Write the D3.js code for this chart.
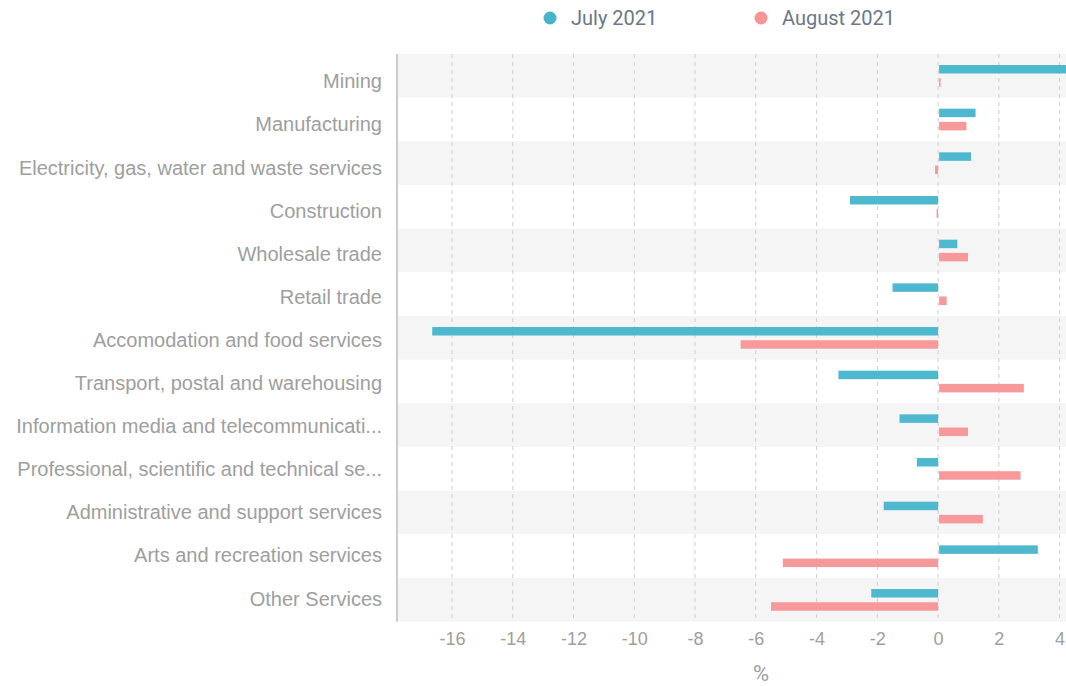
<!DOCTYPE html>
<html>
<head>
<meta charset="utf-8">
<script src="https://cdn.jsdelivr.net/npm/d3@7"></script>
<style>
  body { margin: 0; background: #fff; }
  svg { display: block; font-family: Roboto, "Noto Sans", sans-serif; }
</style>
</head>
<body>
<svg id="chart"></svg>
<script>
// industries, top to bottom
const categories = [
  'Mining',
  'Manufacturing',
  'Electricity, gas, water and waste services',
  'Construction',
  'Wholesale trade',
  'Retail trade',
  'Accomodation and food services',
  'Transport, postal and warehousing',
  'Information media and telecommunicati...',
  'Professional, scientific and technical se...',
  'Administrative and support services',
  'Arts and recreation services',
  'Other Services'
];
const seriesNames = ['July 2021', 'August 2021'];
const july2021 = [4.6, 1.2, 1.05, -2.9, 0.6, -1.5, -16.65, -3.28, -1.27, -0.7, -1.79, 3.25, -2.2];
const august2021 = [0.05, 0.9, -0.1, -0.05, 0.95, 0.25, -6.5, 2.79, 0.95, 2.68, 1.44, -5.11, -5.5];
const xTicks = [-16, -14, -12, -10, -8, -6, -4, -2, 0, 2, 4];
const colors = ['#45b5cb', '#f79495'];

const W = 1066, H = 686;
const margin = {top: 54, right: 0, bottom: 64.3, left: 397};

const svg = d3.select('#chart').attr('width', W).attr('height', H);

const x = d3.scaleLinear()
  .domain([-17.81, 4.21])
  .range([margin.left, W - margin.right]);

const y = d3.scaleBand()
  .domain(categories)
  .range([margin.top, H - margin.bottom]);

// labels sit on a slightly tighter spacing than the rows
const yLabel = d3.scalePoint()
  .domain(categories)
  .range([80.8, 598]);

const ySub = d3.scaleBand()
  .domain(seriesNames)
  .range([11, 32.7])
  .paddingInner(0.356);

// alternating row bands
svg.append('g')
  .selectAll('rect')
  .data(categories)
  .join('rect')
  .attr('x', margin.left)
  .attr('y', d => y(d))
  .attr('width', W - margin.right - margin.left)
  .attr('height', y.bandwidth())
  .attr('fill', (d, i) => i % 2 === 0 ? '#f5f5f5' : '#fff');

// dashed grid
svg.append('g')
  .selectAll('line')
  .data(xTicks)
  .join('line')
  .attr('x1', d => x(d)).attr('x2', d => x(d))
  .attr('y1', margin.top).attr('y2', H - margin.bottom)
  .attr('stroke', '#cfcfcf')
  .attr('stroke-dasharray', '4,4');

svg.append('clipPath').attr('id', 'plotclip')
  .append('rect')
  .attr('x', margin.left).attr('y', margin.top)
  .attr('width', W - margin.right - margin.left)
  .attr('height', H - margin.bottom - margin.top);

const rows = categories.map((c, i) => ({cat: c, vals: [july2021[i], august2021[i]]}));

const bars = svg.append('g').attr('clip-path', 'url(#plotclip)');
rows.forEach(r => {
  r.vals.forEach((v, j) => {
    bars.append('rect')
      .attr('x', x(Math.min(0, v)) + (v >= 0 ? 1 : 0))
      .attr('y', y(r.cat) + ySub(seriesNames[j]))
      .attr('width', Math.abs(x(v) - x(0)))
      .attr('height', ySub.bandwidth())
      .attr('fill', colors[j])
      .attr('fill-opacity', 0.95);
  });
});

// left axis line
svg.append('line')
  .attr('x1', margin.left).attr('x2', margin.left)
  .attr('y1', margin.top).attr('y2', H - margin.bottom)
  .attr('stroke', '#cccccc')
  .attr('stroke-width', 2);

// category labels
const yAxis = d3.axisLeft(yLabel).tickSize(0).tickPadding(15);
const yg = svg.append('g')
  .attr('transform', `translate(${margin.left},0)`)
  .call(yAxis);
yg.select('.domain').remove();
yg.selectAll('text')
  .attr('dy', '0.35em')
  .style('font-size', '20px')
  .attr('fill', '#9e9e9e');

// x axis
const xAxis = d3.axisBottom(x)
  .tickValues(xTicks)
  .tickFormat(d => String(d))
  .tickSize(0)
  .tickPadding(11);
const xg = svg.append('g')
  .attr('transform', `translate(0,${H - margin.bottom})`)
  .call(xAxis);
xg.select('.domain').remove();
xg.selectAll('text')
  .style('font-size', '18px')
  .attr('fill', '#9e9e9e');

svg.append('text')
  .attr('x', 761)
  .attr('y', 681)
  .attr('text-anchor', 'middle')
  .style('font-size', '22px')
  .attr('fill', '#9e9e9e')
  .text('%');

// legend
const legendX = [550, 761];
const legend = svg.append('g');
seriesNames.forEach((s, i) => {
  legend.append('circle')
    .attr('cx', legendX[i]).attr('cy', 18)
    .attr('r', 6.5)
    .attr('fill', colors[i]);
  legend.append('text')
    .attr('x', legendX[i] + 21)
    .attr('y', 18)
    .attr('dy', '0.35em')
    .style('font-size', '20px')
    .attr('fill', '#6b7785')
    .text(s);
});
</script>
</body>
</html>
